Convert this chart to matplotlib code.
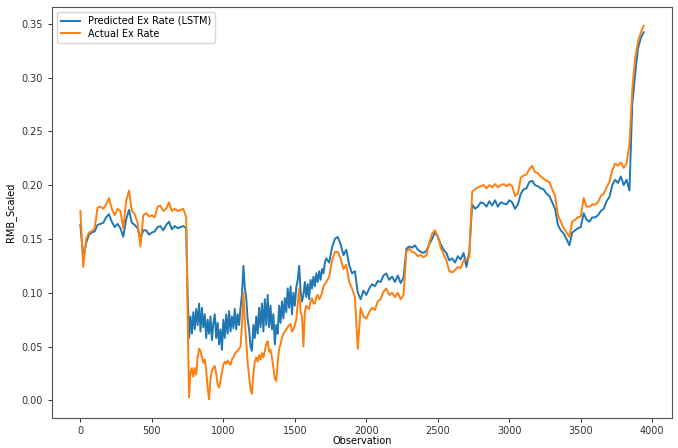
import numpy as np
import matplotlib
matplotlib.use("Agg")
import matplotlib.pyplot as plt

# Observation index of each sample: every 20th point, every 10th through the
# volatile stretch after the level shift around observation 750
observation = np.concatenate([
    np.arange(0, 740, 20),
    np.arange(740, 1720, 10),
    np.arange(1720, 3941, 20),
])

# LSTM prediction of the scaled RMB exchange rate
predicted = [
    # 0-720 (step 20)
    0.163, 0.133, 0.146, 0.154, 0.156, 0.157, 0.163, 0.164, 0.165, 0.170,
    0.173, 0.166, 0.161, 0.164, 0.160, 0.152, 0.168, 0.177, 0.165, 0.163,
    0.160, 0.150, 0.158, 0.158, 0.154, 0.156, 0.157, 0.161, 0.162, 0.158,
    0.163, 0.166, 0.159, 0.162, 0.160, 0.161, 0.162,
    # 740-1710 (step 10)
    0.160, 0.100, 0.058, 0.078, 0.062, 0.082, 0.066, 0.085, 0.070, 0.090,
    0.064, 0.086, 0.068, 0.080, 0.058, 0.075, 0.062, 0.078, 0.056, 0.072,
    0.080, 0.058, 0.072, 0.052, 0.066, 0.047, 0.075, 0.058, 0.080, 0.062,
    0.083, 0.064, 0.078, 0.067, 0.085, 0.066, 0.080, 0.070, 0.086, 0.098,
    0.125, 0.105, 0.095, 0.075, 0.066, 0.050, 0.046, 0.070, 0.058, 0.078,
    0.062, 0.086, 0.068, 0.090, 0.064, 0.094, 0.070, 0.098, 0.068, 0.088,
    0.066, 0.080, 0.052, 0.070, 0.062, 0.088, 0.072, 0.092, 0.076, 0.095,
    0.082, 0.104, 0.086, 0.106, 0.080, 0.100, 0.088, 0.105, 0.112, 0.125,
    0.102, 0.092, 0.098, 0.110, 0.096, 0.108, 0.094, 0.112, 0.104, 0.115,
    0.106, 0.118, 0.110, 0.120, 0.112, 0.122, 0.118, 0.128,
    # 1720-3940 (step 20)
    0.132, 0.128, 0.142, 0.150,
    0.152, 0.145, 0.135, 0.140, 0.126, 0.118, 0.120, 0.100, 0.094, 0.102,
    0.098, 0.104, 0.108, 0.106, 0.111, 0.110, 0.116, 0.118, 0.112, 0.115,
    0.110, 0.116, 0.109, 0.114, 0.141, 0.143, 0.142, 0.144, 0.140, 0.138,
    0.137, 0.139, 0.145, 0.150, 0.156, 0.152, 0.145, 0.140, 0.137, 0.130,
    0.132, 0.128, 0.134, 0.131, 0.137, 0.124, 0.138, 0.182, 0.178, 0.180,
    0.184, 0.183, 0.180, 0.185, 0.181, 0.186, 0.180, 0.184, 0.183, 0.182,
    0.186, 0.184, 0.178, 0.182, 0.192, 0.196, 0.197, 0.203, 0.204, 0.200,
    0.199, 0.197, 0.196, 0.192, 0.190, 0.184, 0.178, 0.163, 0.158, 0.155,
    0.150, 0.144, 0.156, 0.158, 0.160, 0.161, 0.174, 0.168, 0.166, 0.170,
    0.170, 0.172, 0.176, 0.178, 0.185, 0.189, 0.200, 0.205, 0.202, 0.208,
    0.200, 0.205, 0.195, 0.275, 0.303, 0.327, 0.337, 0.342,
]

# Actual scaled RMB exchange rate
actual = [
    # 0-720 (step 20)
    0.176, 0.124, 0.150, 0.156, 0.157, 0.160, 0.179, 0.180, 0.178, 0.182,
    0.188, 0.178, 0.172, 0.178, 0.176, 0.160, 0.185, 0.195, 0.176, 0.173,
    0.165, 0.143, 0.172, 0.174, 0.171, 0.172, 0.170, 0.180, 0.181, 0.176,
    0.178, 0.184, 0.176, 0.178, 0.176, 0.177, 0.178,
    # 740-1710 (step 10)
    0.170, 0.080, 0.003, 0.026, 0.030, 0.022, 0.030, 0.024, 0.040, 0.048,
    0.046, 0.040, 0.035, 0.038, 0.028, 0.012, 0.001, 0.020, 0.028, 0.030,
    0.032, 0.025, 0.015, 0.012, 0.018, 0.026, 0.033, 0.036, 0.034, 0.037,
    0.035, 0.033, 0.038, 0.040, 0.043, 0.045, 0.046, 0.048, 0.050, 0.070,
    0.100, 0.075, 0.055, 0.035, 0.022, 0.010, 0.006, 0.025, 0.036, 0.040,
    0.036, 0.042, 0.038, 0.044, 0.040, 0.046, 0.052, 0.055, 0.045, 0.047,
    0.040, 0.030, 0.020, 0.018, 0.035, 0.048, 0.052, 0.058, 0.062, 0.064,
    0.066, 0.068, 0.070, 0.071, 0.064, 0.066, 0.070, 0.075, 0.090, 0.104,
    0.082, 0.078, 0.050, 0.082, 0.088, 0.086, 0.085, 0.092, 0.095, 0.090,
    0.090, 0.096, 0.098, 0.094, 0.096, 0.100, 0.106, 0.108,
    # 1720-3940 (step 20)
    0.110, 0.115, 0.130, 0.138,
    0.138, 0.132, 0.122, 0.126, 0.110, 0.104, 0.096, 0.048, 0.086, 0.078,
    0.076, 0.082, 0.086, 0.084, 0.092, 0.094, 0.101, 0.104, 0.098, 0.100,
    0.096, 0.100, 0.094, 0.098, 0.138, 0.141, 0.138, 0.137, 0.134, 0.135,
    0.133, 0.135, 0.146, 0.155, 0.158, 0.152, 0.142, 0.136, 0.130, 0.120,
    0.119, 0.121, 0.124, 0.123, 0.130, 0.131, 0.133, 0.194, 0.196, 0.198,
    0.199, 0.200, 0.197, 0.200, 0.198, 0.201, 0.198, 0.200, 0.201, 0.199,
    0.201, 0.199, 0.190, 0.192, 0.207, 0.209, 0.210, 0.215, 0.218, 0.212,
    0.211, 0.208, 0.206, 0.204, 0.203, 0.196, 0.190, 0.172, 0.166, 0.160,
    0.156, 0.152, 0.166, 0.168, 0.170, 0.171, 0.188, 0.180, 0.180, 0.182,
    0.182, 0.184, 0.190, 0.192, 0.198, 0.203, 0.214, 0.220, 0.218, 0.221,
    0.216, 0.220, 0.238, 0.289, 0.318, 0.333, 0.342, 0.348,
]

fig = plt.figure(figsize=(6.78, 4.48), dpi=100)
ax = fig.add_axes([0.077, 0.067, 0.914, 0.917])

ax.plot(observation, predicted, color="#1f77b4", lw=1.4, label="Predicted Ex Rate (LSTM)")
ax.plot(observation, actual, color="#ff7f0e", lw=1.4, label="Actual Ex Rate")

ax.set_xlabel("Observation", fontsize=7, labelpad=0)
ax.set_ylabel("RMB_Scaled", fontsize=7, labelpad=4)
ax.set_xticks([0, 500, 1000, 1500, 2000, 2500, 3000, 3500, 4000])
ax.set_yticks([0.0, 0.05, 0.10, 0.15, 0.20, 0.25, 0.30, 0.35])
ax.tick_params(labelsize=7, length=3, width=0.7, colors="#333333")
ax.tick_params(axis="x", pad=3)
for s in ax.spines.values():
    s.set_color("#555555")
    s.set_linewidth(0.8)

ax.legend(loc="upper left", fontsize=7, framealpha=0.8, borderpad=0.4,
          handlelength=2.0, labelspacing=0.3)

fig.savefig("out.png", dpi=100)
